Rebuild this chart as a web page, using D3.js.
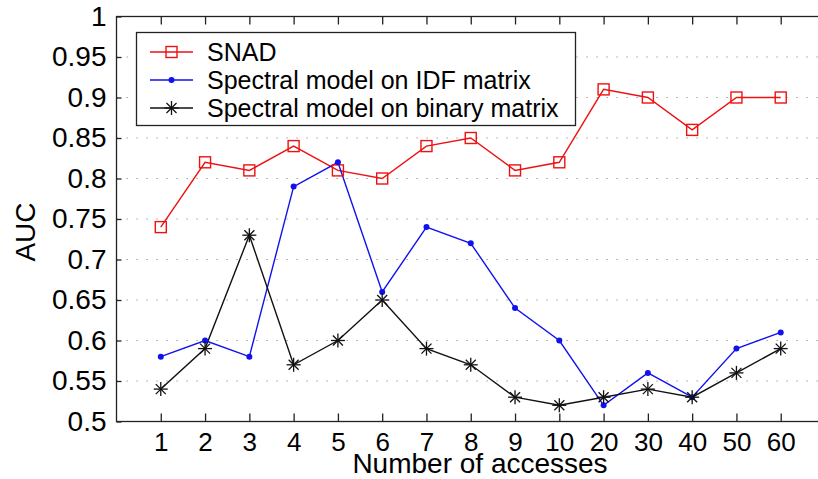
<!DOCTYPE html>
<html>
<head>
<meta charset="utf-8">
<script src="https://cdn.jsdelivr.net/npm/d3@7/dist/d3.min.js"></script>
<style>
  html, body { margin: 0; padding: 0; background: #fff; }
  svg { display: block; font-family: "Liberation Sans", Arial, sans-serif; }
</style>
</head>
<body>
<svg id="chart" width="818" height="479"></svg>
<script>
const categories = ["1","2","3","4","5","6","7","8","9","10","20","30","40","50","60"];
const snad      = [0.74,0.82,0.81,0.84,0.81,0.80,0.84,0.85,0.81,0.82,0.91,0.90,0.86,0.90,0.90];
const idfModel  = [0.58,0.60,0.58,0.79,0.82,0.66,0.74,0.72,0.64,0.60,0.52,0.56,0.53,0.59,0.61];
const binModel  = [0.54,0.59,0.73,0.57,0.60,0.65,0.59,0.57,0.53,0.52,0.53,0.54,0.53,0.56,0.59];
const yTicks    = [0.5,0.55,0.6,0.65,0.7,0.75,0.8,0.85,0.9,0.95,1];
const seriesNames = ["SNAD","Spectral model on IDF matrix","Spectral model on binary matrix"];

const svg = d3.select("#chart");
const L = 116.5, R = 825, T = 16.5, B = 421.5;

const x = d3.scalePoint().domain(categories).range([L, R]).padding(1);
const y = d3.scaleLinear().domain([0.5, 1]).range([B, T]);

// grid
svg.append("g").selectAll("line")
  .data(yTicks.filter(d => d > 0.5 && d < 1))
  .join("line")
  .attr("x1", L).attr("x2", R)
  .attr("y1", d => y(d)).attr("y2", d => y(d))
  .attr("stroke", "#8a8a8a").attr("stroke-width", 1.2)
  .attr("stroke-dasharray", "1.2,8.8");

// frame
svg.append("rect").attr("x", L).attr("y", T).attr("width", R - L).attr("height", B - T)
  .attr("fill", "none").attr("stroke", "#222").attr("stroke-width", 1.3);

// axes
const xb = svg.append("g").attr("transform", `translate(0,${B})`)
  .call(d3.axisBottom(x).tickSizeInner(-8).tickSizeOuter(0).tickPadding(11));
const xt = svg.append("g").attr("transform", `translate(0,${T})`)
  .call(d3.axisTop(x).tickSizeInner(-8).tickSizeOuter(0).tickFormat(""));
const yl = svg.append("g").attr("transform", `translate(${L},0)`)
  .call(d3.axisLeft(y).tickValues(yTicks).tickSizeInner(-5).tickSizeOuter(0).tickPadding(10)
        .tickFormat(d => d3.format("")(+d.toFixed(2))));
[xb, xt, yl].forEach(g => {
  g.select(".domain").remove();
  g.selectAll(".tick line").attr("stroke", "#222").attr("stroke-width", 1.3);
});
xb.selectAll(".tick text").attr("font-size", 26).attr("fill", "#000")
  .attr("font-family", "Liberation Sans, Arial, sans-serif");
yl.selectAll(".tick text").attr("font-size", 28).attr("fill", "#000")
  .attr("font-family", "Liberation Sans, Arial, sans-serif");

// axis labels
svg.append("text").attr("x", 480).attr("y", 473).attr("text-anchor", "middle")
  .attr("font-size", 28).text("Number of accesses");
svg.append("text").attr("transform", "translate(35,232) rotate(-90)").attr("text-anchor", "middle")
  .attr("font-size", 28).text("AUC");

// lines
const line = d3.line().x((d, i) => x(categories[i])).y(d => y(d));
const colors = ["#ee1111", "#1111ee", "#111111"];
const data = [snad, idfModel, binModel];
data.forEach((s, k) => {
  svg.append("path").datum(s).attr("d", line).attr("fill", "none")
    .attr("stroke", colors[k]).attr("stroke-width", 1.4);
});

function drawMarker(g, k, cx, cy) {
  if (k === 0) {
    g.append("rect").attr("x", cx - 5.5).attr("y", cy - 5.5).attr("width", 11).attr("height", 11)
      .attr("fill", "none").attr("stroke", colors[0]).attr("stroke-width", 1.4);
  } else if (k === 1) {
    g.append("circle").attr("cx", cx).attr("cy", cy).attr("r", 3).attr("fill", colors[1]);
  } else {
    const r = 7, d = 5;
    const segs = [[0,-r,0,r],[-r,0,r,0],[-d,-d,d,d],[-d,d,d,-d]];
    segs.forEach(s => g.append("line")
      .attr("x1", cx + s[0]).attr("y1", cy + s[1]).attr("x2", cx + s[2]).attr("y2", cy + s[3])
      .attr("stroke", colors[2]).attr("stroke-width", 1.3));
  }
}
data.forEach((s, k) => {
  const g = svg.append("g");
  s.forEach((v, i) => drawMarker(g, k, x(categories[i]), y(v)));
});

// legend
const lg = svg.append("g");
lg.append("rect").attr("x", 136.5).attr("y", 32.5).attr("width", 439).attr("height", 93)
  .attr("fill", "#fff").attr("stroke", "#222").attr("stroke-width", 1.3);
seriesNames.forEach((name, k) => {
  const cy = 52 + k * 28;
  lg.append("line").attr("x1", 150).attr("x2", 193).attr("y1", cy).attr("y2", cy)
    .attr("stroke", colors[k]).attr("stroke-width", 1.4);
  drawMarker(lg, k, 171.5, cy);
  lg.append("text").attr("x", 207).attr("y", cy + 9).attr("font-size", 25).text(name);
});
</script>
</body>
</html>
